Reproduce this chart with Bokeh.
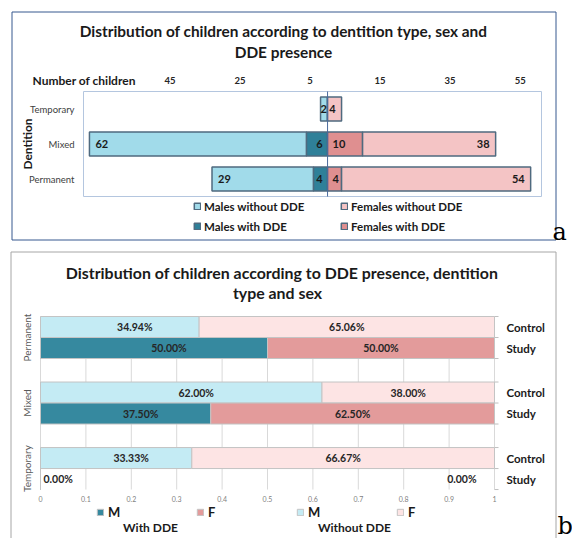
import numpy as np
from math import pi
from bokeh.plotting import figure
from bokeh.models import Range1d, Legend, LegendItem, ColumnDataSource
from bokeh.layouts import column
from bokeh.embed import file_html
from bokeh.resources import INLINE
from bokeh.core.properties import value

FONT = "Lato"

# ---------------- Data: chart a (number of children) ----------------
dentition_a = ["Temporary", "Mixed", "Permanent"]
males_without = [2, 62, 29]
males_with = [0, 6, 4]
females_with = [0, 10, 4]
females_without = [4, 38, 54]
ticks_a = [-45, -25, -5, 15, 35, 55]

# ---------------- Data: chart b (shares, %) ----------------
dentition_b = ["Permanent", "Mixed", "Temporary"]
groups_b = ["Control", "Study"]
control_m = [34.94, 62.00, 33.33]   # without DDE, males
control_f = [65.06, 38.00, 66.67]   # without DDE, females
study_m = [50.00, 37.50, 0.00]      # with DDE, males
study_f = [50.00, 62.50, 0.00]      # with DDE, females
ticks_b = [0, 0.1, 0.2, 0.3, 0.4, 0.5, 0.6, 0.7, 0.8, 0.9, 1]

W = 572          # canvas width; canvas px == picture px


def make_fig(height, top_page):
    # frame = whole canvas; default ranges are picture pixels (y downward)
    p = figure(width=W, height=height, output_backend="svg", toolbar_location=None,
               x_range=Range1d(0, W), y_range=Range1d(top_page + height, top_page),
               x_axis_type=None, y_axis_type=None, min_border=0)
    p.outline_line_color = None
    p.background_fill_color = "white"
    p.border_fill_color = "white"
    return p


def txt(p, xs, ys, labels, size, style="bold", align="center", color="#1a1a1a",
        xoff=0, yoff=0, angle=0, font=FONT, xr="default", yr="default"):
    d = dict(x=list(xs), y=list(ys), t=list(labels))
    kw = {}
    if isinstance(xoff, list):
        d["xo"] = xoff
        kw["x_offset"] = "xo"
    else:
        kw["x_offset"] = xoff
    s = ColumnDataSource(d)
    p.text(x="x", y="y", text="t", source=s, text_align=align, text_baseline="middle",
           y_offset=yoff, angle=angle, text_font=value(font), text_font_style=style,
           text_font_size=size, text_color=color, x_range_name=xr, y_range_name=yr, **kw)


def data_range(p0, p1, d0, d1, c0, c1):
    """Range whose data d0..d1 lands on pixels p0..p1 of a canvas spanning c0..c1."""
    k = (p1 - p0) / (d1 - d0)
    return Range1d(d0 - (p0 - c0) / k, d1 + (c1 - p1) / k)


# =====================================================================
# Chart a
# =====================================================================
TOP_A, H_A = 0, 246
PL, PT, PR, PB = 83, 91, 541, 196          # plot area (px)
XA0, XA1 = -69.7, 61.1
pa = make_fig(H_A, TOP_A)
pa.extra_x_ranges = {"ax": data_range(PL, PR, XA0, XA1, 0, W)}
ya_r = data_range(PT, PB, 0, 3, TOP_A, TOP_A + H_A)
pa.extra_y_ranges = {"ay": Range1d(ya_r.end, ya_r.start)}

# outer box and plot-area box
pa.quad(left=11.5, right=555.5, top=11.5, bottom=239.5, fill_color=None,
        line_color="#37588f", line_width=1)
pa.quad(left=XA0, right=XA1, top=0, bottom=3, fill_color=None, line_color="#b4c6df",
        line_width=1, x_range_name="ax", y_range_name="ay")

mw = np.array(males_with); mwo = np.array(males_without)
fw = np.array(females_with); fwo = np.array(females_without)
ypos = [i + 0.5 for i in range(len(dentition_a))]
srca = ColumnDataSource(dict(
    y=ypos,
    mw_l=-mw, mw_r=np.zeros(3),
    mwo_l=-(mw + mwo), mwo_r=-mw,
    fw_l=np.zeros(3), fw_r=fw,
    fwo_l=fw, fwo_r=fw + fwo))

BAR_LINE = "#4f6a7f"
HB = 0.69
kw = dict(source=srca, height=HB, line_color=BAR_LINE, line_width=1.5,
          x_range_name="ax", y_range_name="ay")
r_mwo = pa.hbar(y="y", left="mwo_l", right="mwo_r", fill_color="#a1dbea", **kw)
r_mw = pa.hbar(y="y", left="mw_l", right="mw_r", fill_color="#2f8099", **kw)
r_fw = pa.hbar(y="y", left="fw_l", right="fw_r", fill_color="#df8f90", **kw)
r_fwo = pa.hbar(y="y", left="fwo_l", right="fwo_r", fill_color="#f4c4c5", **kw)

# zero line
pa.segment(x0=0, x1=0, y0=0, y1=3, line_color="#4a6a9c", line_width=1,
           x_range_name="ax", y_range_name="ay")

A = dict(xr="ax", yr="ay")
idx = [i for i in range(3) if mwo[i] > 0]
txt(pa, [float(-(mw + mwo)[i]) for i in idx], [ypos[i] for i in idx], [str(mwo[i]) for i in idx],
    "11px", align="left", xoff=[6 if mwo[i] >= 5 else 0 for i in idx], **A)
idx = [i for i in range(3) if mw[i] > 0]
txt(pa, [0.0] * len(idx), [ypos[i] for i in idx], [str(mw[i]) for i in idx],
    "11px", align="right", xoff=-5, **A)
idx = [i for i in range(3) if fw[i] > 0]
txt(pa, [0.0] * len(idx), [ypos[i] for i in idx], [str(fw[i]) for i in idx],
    "11px", align="left", xoff=5, **A)
idx = [i for i in range(3) if fwo[i] > 0]
txt(pa, [float((fw + fwo)[i]) for i in idx], [ypos[i] for i in idx], [str(fwo[i]) for i in idx],
    "11px", align="right", xoff=-6, **A)

# top axis (absolute values) and category axis
txt(pa, ticks_a, [0] * len(ticks_a), [str(abs(t)) for t in ticks_a], "9.5px",
    color="#262626", yoff=-11, **A)
txt(pa, [XA0] * 3, ypos, dentition_a, "9.5px", style="normal", align="right",
    color="#404040", xoff=-9, **A)
txt(pa, [27], [143.5], ["Dentition"], "12px", angle=pi / 2)
txt(pa, [32], [80], ["Number of children"], "12px", align="left")

# title
txt(pa, [283, 283], [30, 51],
    ["Distribution of children according to dentition type, sex and", "DDE presence"], "15.4px")
txt(pa, [552], [231], ["a"], "24px", style="normal", align="left", font="DejaVu Serif",
    color="black")

legend_a = Legend(items=[LegendItem(label="Males without DDE", renderers=[r_mwo]),
                         LegendItem(label="Males with DDE", renderers=[r_mw]),
                         LegendItem(label="Females without DDE", renderers=[r_fwo]),
                         LegendItem(label="Females with DDE", renderers=[r_fw])],
                  location=(193, TOP_A + H_A - 233), orientation="vertical", ncols=2,
                  glyph_width=8, glyph_height=8, label_standoff=3, spacing=6,
                  label_height=14, label_width=130, padding=0, margin=0,
                  border_line_color=None, background_fill_alpha=0,
                  label_text_font=FONT, label_text_font_style="bold",
                  label_text_font_size="11.5px", label_text_color="#1a1a1a")
pa.add_layout(legend_a)

# =====================================================================
# Chart b
# =====================================================================
TOP_B, H_B = 246, 292
BL, BT, BR = 40, 316, 494                  # plot area (px)
U = 21.0                                   # px per bar row
G = 1.12                                   # gap between dentition groups (rows)
pb = make_fig(H_B, TOP_B)
pb.extra_x_ranges = {"bx": data_range(BL, BR, 0, 1, 0, W)}
pb.extra_y_ranges = {"by": Range1d((TOP_B + H_B - BT) / U, (TOP_B - BT) / U)}
B = dict(xr="bx", yr="by")

total = len(dentition_b) * 2 + (len(dentition_b) - 1) * G
y_ctrl = [gi * (2 + G) + 0.5 for gi in range(len(dentition_b))]
y_study = [gi * (2 + G) + 1.5 for gi in range(len(dentition_b))]

pb.quad(left=10.5, right=555.5, top=251.5, bottom=620, fill_color=None,
        line_color="#a6a6a6", line_width=1)

# vertical grid
pb.segment(x0=ticks_b, x1=ticks_b, y0=[0] * len(ticks_b), y1=[total] * len(ticks_b),
           line_color="#d9d9d9", line_width=1, x_range_name="bx", y_range_name="by")

# right category-axis tick marks at row boundaries
bounds = sorted({gi * (2 + G) + k for gi in range(len(dentition_b)) for k in (0, 1, 2)})
tick_len = 4 / (BR - BL)
pb.segment(x0=[1] * len(bounds), x1=[1 + tick_len] * len(bounds), y0=bounds, y1=bounds,
           line_color="#bfbfbf", line_width=1, x_range_name="bx", y_range_name="by")

cm = np.array(control_m) / 100; cf = np.array(control_f) / 100
sm = np.array(study_m) / 100; sf = np.array(study_f) / 100
src_c = ColumnDataSource(dict(y=y_ctrl, m=cm, mf=cm + cf))
src_s = ColumnDataSource(dict(y=y_study, m=sm, mf=sm + sf))

OL = "#c4c4c4"
kb = dict(height=1.0, line_color=OL, line_width=1, x_range_name="bx", y_range_name="by")
r_cm = pb.hbar(y="y", left=0, right="m", source=src_c, fill_color="#c4ebf4", **kb)
r_cf = pb.hbar(y="y", left="m", right="mf", source=src_c, fill_color="#fde4e4", **kb)
r_sm = pb.hbar(y="y", left=0, right="m", source=src_s, fill_color="#36899f", **kb)
r_sf = pb.hbar(y="y", left="m", right="mf", source=src_s, fill_color="#e39b9b", **kb)

for yv_list, mv, fv in ((y_ctrl, cm, cf), (y_study, sm, sf)):
    for i in range(len(dentition_b)):
        yv = [yv_list[i]]
        if mv[i] > 0:
            txt(pb, [float(mv[i] / 2)], yv, [f"{mv[i]*100:.2f}%"], "10.5px",
                color="#262626", xoff=15, **B)
        else:
            txt(pb, [0.0], yv, [f"{mv[i]*100:.2f}%"], "10.5px", align="left",
                color="#262626", xoff=3, **B)
        if fv[i] > 0:
            txt(pb, [float(mv[i] + fv[i] / 2)], yv, [f"{fv[i]*100:.2f}%"], "10.5px",
                color="#262626", **B)
        else:
            txt(pb, [1.0], yv, [f"{fv[i]*100:.2f}%"], "10.5px", align="right",
                color="#262626", xoff=-18, **B)

# axes texts
txt(pb, ticks_b, [total] * len(ticks_b), [f"{t:g}" for t in ticks_b], "7px", style="normal",
    color="#7f7f7f", yoff=9, **B)
txt(pb, [0] * len(dentition_b), [gi * (2 + G) + 1 for gi in range(len(dentition_b))],
    dentition_b, "10px", style="normal", color="#595959", xoff=-14, angle=pi / 2, **B)
txt(pb, [1] * len(dentition_b), y_ctrl, [groups_b[0]] * len(dentition_b), "11.5px",
    align="left", xoff=12, **B)
txt(pb, [1] * len(dentition_b), y_study, [groups_b[1]] * len(dentition_b), "11.5px",
    align="left", xoff=12, **B)

txt(pb, [281.5, 277], [272, 292],
    ["Distribution of children according to DDE presence, dentition", "type and sex"], "15.9px")
txt(pb, [150, 354], [527, 527], ["With DDE", "Without DDE"], "12px")
txt(pb, [557], [525], ["b"], "24px", style="normal", align="left", font="DejaVu Serif",
    color="black")

legend_b = Legend(items=[LegendItem(label="M", renderers=[r_sm]),
                         LegendItem(label="F", renderers=[r_sf]),
                         LegendItem(label="M", renderers=[r_cm]),
                         LegendItem(label="F", renderers=[r_cf])],
                  location=(96, TOP_B + H_B - 520), orientation="horizontal",
                  glyph_width=8, glyph_height=8, label_standoff=4, spacing=8,
                  label_height=14, label_width=80, padding=0, margin=0,
                  border_line_color=None, background_fill_alpha=0,
                  label_text_font=FONT, label_text_font_style="bold",
                  label_text_font_size="13px", label_text_color="#1a1a1a")
pb.add_layout(legend_b)

layout = column(pa, pb, spacing=0)
open("out.html", "w").write(file_html(layout, INLINE))
